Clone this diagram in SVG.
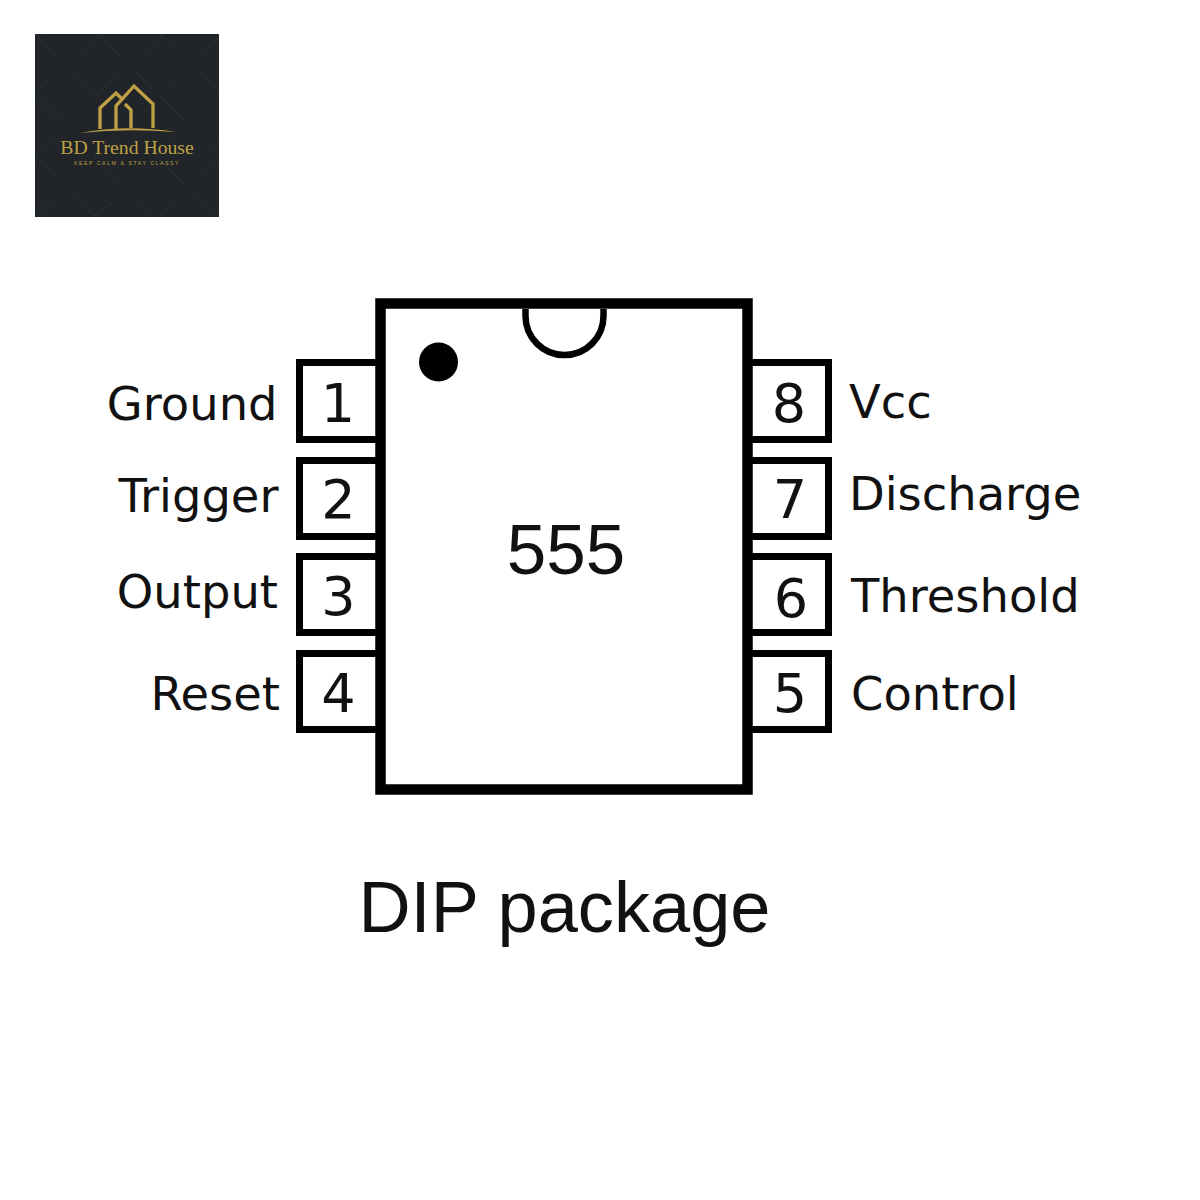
<svg xmlns="http://www.w3.org/2000/svg" width="1200" height="1200" viewBox="0 0 1200 1200">
<style>
.pin{fill:#fff;stroke:#000;stroke-width:7}
.lbl{font-family:"DejaVu Sans",sans-serif;font-size:46.4px;fill:#111}
.num{font-family:"DejaVu Sans",sans-serif;font-size:54px;fill:#111;text-anchor:middle}
.big{font-family:"Liberation Sans",Arial,sans-serif;fill:#111;text-anchor:middle;font-size:71px}
.gold{fill:none;stroke:#bfa044;stroke-width:3.300}
.gl{stroke:#2c3135;stroke-width:1;fill:none}
</style>
<rect width="1200" height="1200" fill="#fff"/>
<g id="logo">
<rect x="35" y="34" width="184" height="183" fill="#212529"/>
<path class="gl" d="M36 35L60 59M100 35L123 59M160 35L183 59M99 35L77 58M163 35L141 57M219 36L202 54M72 69L95 92M133 69L155 92M196 69L219 92M52 75L36 92M117 75L95 96M178 75L160 92M36 96L60 120M160 96L183 119M36 157L59 180M98 160L120 182M160 160L183 183M52 137L36 153M117 137L95 158M178 137L160 154M219 137L202 155M71 193L94 216M133 193L155 216M196 193L219 216M52 200L36 216M115 200L94 216M178 200L160 216M219 160L200 178"/>
<path class="gold" d="M100 129V108L116 93L122 99M116 129V106L134 86L153 104V128M125 104L131 110V128"/>
<path d="M80 133Q125 124 176 132Q125 128 80 133Z" fill="#bfa044"/>
<text x="127" y="154" text-anchor="middle" font-family="Liberation Serif,serif" font-size="19.700" fill="#bfa044">BD Trend House</text>
<text x="127" y="165" text-anchor="middle" font-family="Liberation Sans,sans-serif" font-size="5.200" letter-spacing="1.550" fill="#bfa044">KEEP CALM &amp; STAY CLASSY</text>
</g>
<g id="pin-1"><rect class="pin" x="299.500" y="362.500" width="90" height="77"/><text class="num" x="338" y="422">1</text><text class="lbl" x="277.500" y="420" text-anchor="end">Ground</text></g>
<g id="pin-2"><rect class="pin" x="299.500" y="460.500" width="90" height="76"/><text class="num" x="338.500" y="518">2</text><text class="lbl" x="278.500" y="512" text-anchor="end">Trigger</text></g>
<g id="pin-3"><rect class="pin" x="299.500" y="556.500" width="90" height="76"/><text class="num" x="338.500" y="615">3</text><text class="lbl" x="278" y="608" text-anchor="end">Output</text></g>
<g id="pin-4"><rect class="pin" x="299.500" y="653.500" width="90" height="76"/><text class="num" x="338.500" y="712">4</text><text class="lbl" x="280" y="710" text-anchor="end">Reset</text></g>
<g id="pin-8"><rect class="pin" x="738.500" y="362.500" width="90" height="77"/><text class="num" x="789" y="422">8</text><text class="lbl" x="849" y="418">Vcc</text></g>
<g id="pin-7"><rect class="pin" x="738.500" y="460.500" width="90" height="76"/><text class="num" x="790" y="518">7</text><text class="lbl" x="849" y="510">Discharge</text></g>
<g id="pin-6"><rect class="pin" x="738.500" y="556.500" width="90" height="76"/><text class="num" x="791" y="617">6</text><text class="lbl" x="851" y="612">Threshold</text></g>
<g id="pin-5"><rect class="pin" x="738.500" y="653.500" width="90" height="76"/><text class="num" x="790" y="712">5</text><text class="lbl" x="851" y="710">Control</text></g>
<g id="chip">
<rect x="380.500" y="303.500" width="367" height="486" fill="#fff" stroke="#000" stroke-width="10.500"/>
<path d="M525.500 309V316A39 39 0 0 0 603.500 316V309" fill="#fff" stroke="#000" stroke-width="6.500"/>
<circle cx="438.500" cy="362" r="19.500" fill="#000"/>
<text class="big" x="566" y="574">555</text>
</g>
<text id="caption" class="big" style="font-size:72.200px" x="564.500" y="932">DIP package</text>
</svg>
